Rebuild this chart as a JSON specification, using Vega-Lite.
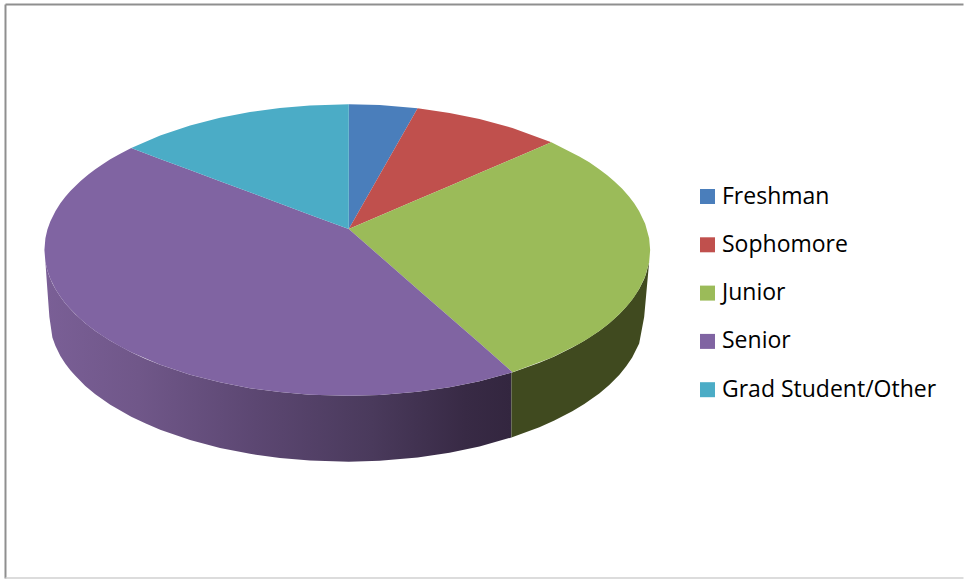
{"$schema":"https://vega.github.io/schema/vega-lite/v6.json","width":965,"height":580,"padding":0,"autosize":{"type":"fit","contains":"padding"},"background":"white","config":{"view":{"stroke":null}},
"datasets":{"frame":[{"x":5,"y":4,"x2":965,"y2":4},{"x":5,"y":4,"x2":5,"y2":579}],"bottom":[{"x":5,"y":578.5,"x2":965,"y2":578.5}],
"sideSenior":[{"x":45,"y":261.9,"y2":262},{"x":47,"y":270.5,"y2":290},{"x":49,"y":276.4,"y2":317},{"x":52,"y":283.6,"y2":337.5},{"x":55,"y":288.9,"y2":345.9},{"x":60,"y":296.8,"y2":356},{"x":65,"y":303.4,"y2":364},{"x":70,"y":309.1,"y2":370.5},{"x":75,"y":314.3,"y2":376},{"x":85,"y":323.3,"y2":386.1},{"x":95,"y":331,"y2":394.4},{"x":110,"y":340.9,"y2":404.9},{"x":131,"y":352.3,"y2":416.9},{"x":145,"y":358.8,"y2":423.6},{"x":160,"y":364.8,"y2":429.9},{"x":190,"y":374.8,"y2":440.3},{"x":220,"y":382.5,"y2":448.2},{"x":250,"y":388.3,"y2":454.1},{"x":280,"y":392.3,"y2":458.3},{"x":310,"y":394.9,"y2":460.9},{"x":349,"y":396,"y2":462},{"x":380,"y":395.2,"y2":461.1},{"x":418,"y":392,"y2":457.8},{"x":450,"y":387.4,"y2":453},{"x":480,"y":381.4,"y2":446.8},{"x":512,"y":372.8,"y2":437.7}],
"sideJunior":[{"x":512,"y":372.8,"y2":437.7},{"x":540,"y":362.9,"y2":427.4},{"x":555,"y":356.5,"y2":420.8},{"x":573,"y":347.5,"y2":411.5},{"x":585,"y":340.9,"y2":404.3},{"x":600,"y":331,"y2":393.6},{"x":610,"y":323.3,"y2":385.2},{"x":620,"y":314.3,"y2":375.1},{"x":627,"y":306.9,"y2":366.5},{"x":633,"y":299.5,"y2":357.6},{"x":640,"y":288.9,"y2":343.5},{"x":645,"y":278.9,"y2":317},{"x":647,"y":273.4,"y2":295},{"x":650,"y":261.9,"y2":262}],
"wedges":[
{"group":"Freshman","x":349,"y":104,"y2":229},{"group":"Freshman","x":380,"y":104.8,"y2":174.6},{"group":"Freshman","x":418,"y":108,"y2":108},
{"group":"Sophomore","x":349,"y":229,"y2":229},{"group":"Sophomore","x":418,"y":108,"y2":199.4},{"group":"Sophomore","x":450,"y":112.6,"y2":185.7},{"group":"Sophomore","x":480,"y":118.6,"y2":172.9},{"group":"Sophomore","x":513,"y":127.6,"y2":158.7},{"group":"Sophomore","x":552,"y":142.1,"y2":142.1},
{"group":"Junior","x":349,"y":229,"y2":229},{"group":"Junior","x":380,"y":215.7,"y2":256},{"group":"Junior","x":418,"y":199.4,"y2":289.2},{"group":"Junior","x":450,"y":185.7,"y2":317.1},{"group":"Junior","x":480,"y":172.9,"y2":343.2},{"group":"Junior","x":513,"y":158.7,"y2":372.4},{"group":"Junior","x":552,"y":142.1,"y2":357.9},{"group":"Junior","x":580,"y":156.2,"y2":343.8},{"group":"Junior","x":590,"y":162.1,"y2":337.9},{"group":"Junior","x":600,"y":169,"y2":331},{"group":"Junior","x":608,"y":175,"y2":325},{"group":"Junior","x":615,"y":181,"y2":319},{"group":"Junior","x":623,"y":188.7,"y2":311.3},{"group":"Junior","x":630,"y":196.6,"y2":303.4},{"group":"Junior","x":635,"y":203.1,"y2":296.9},{"group":"Junior","x":640,"y":211.1,"y2":288.9},{"group":"Junior","x":646,"y":223.6,"y2":276.4},{"group":"Junior","x":650,"y":238.1,"y2":261.9},{"group":"Junior","x":651,"y":250,"y2":250},
{"group":"Senior","x":44,"y":250,"y2":250},{"group":"Senior","x":45,"y":238.1,"y2":261.9},{"group":"Senior","x":47,"y":229.5,"y2":270.5},{"group":"Senior","x":50,"y":221.1,"y2":278.9},{"group":"Senior","x":55,"y":211.1,"y2":288.9},{"group":"Senior","x":60,"y":203.2,"y2":296.8},{"group":"Senior","x":65,"y":196.6,"y2":303.4},{"group":"Senior","x":70,"y":190.9,"y2":309.1},{"group":"Senior","x":80,"y":181,"y2":319},{"group":"Senior","x":88,"y":174.3,"y2":325.7},{"group":"Senior","x":95,"y":169,"y2":331},{"group":"Senior","x":102,"y":164.2,"y2":335.8},{"group":"Senior","x":110,"y":159.1,"y2":340.9},{"group":"Senior","x":120,"y":153.4,"y2":346.6},{"group":"Senior","x":131,"y":147.7,"y2":352.3},{"group":"Senior","x":160,"y":158.8,"y2":364.8},{"group":"Senior","x":190,"y":169.9,"y2":374.8},{"group":"Senior","x":220,"y":181,"y2":382.5},{"group":"Senior","x":250,"y":192.2,"y2":388.3},{"group":"Senior","x":280,"y":203.4,"y2":392.3},{"group":"Senior","x":310,"y":214.5,"y2":394.9},{"group":"Senior","x":349,"y":229,"y2":396},{"group":"Senior","x":380,"y":256,"y2":395.2},{"group":"Senior","x":418,"y":289.2,"y2":392},{"group":"Senior","x":450,"y":317.1,"y2":387.4},{"group":"Senior","x":480,"y":343.2,"y2":381.4},{"group":"Senior","x":513,"y":372.4,"y2":372.4},
{"group":"Grad Student/Other","x":131,"y":147.7,"y2":147.7},{"group":"Grad Student/Other","x":160,"y":135.2,"y2":158.8},{"group":"Grad Student/Other","x":190,"y":125.2,"y2":169.9},{"group":"Grad Student/Other","x":220,"y":117.5,"y2":181},{"group":"Grad Student/Other","x":250,"y":111.7,"y2":192.2},{"group":"Grad Student/Other","x":280,"y":107.7,"y2":203.4},{"group":"Grad Student/Other","x":310,"y":105.1,"y2":214.5},{"group":"Grad Student/Other","x":349,"y":104,"y2":229}
]},
"encoding":{
"x":{"field":"x","type":"quantitative","scale":{"domain":[-0.5,964.5],"nice":false,"zero":false},"axis":null},
"y":{"field":"y","type":"quantitative","scale":{"domain":[579.5,-0.5],"nice":false,"zero":false},"axis":null}},
"layer":[
{"data":{"name":"frame"},"mark":{"type":"rule","color":"#8f8f8f","strokeWidth":2},"encoding":{"x2":{"field":"x2"},"y2":{"field":"y2"}}},
{"data":{"name":"bottom"},"mark":{"type":"rule","color":"#d0d0d0","strokeWidth":1.5},"encoding":{"x2":{"field":"x2"},"y2":{"field":"y2"}}},
{"data":{"name":"sideSenior"},"mark":{"type":"area","interpolate":"linear","color":{"gradient":"linear","x1":0,"y1":0,"x2":1,"y2":0,"stops":[{"offset":0,"color":"#7a5f96"},{"offset":0.2,"color":"#705789"},{"offset":0.45,"color":"#5c4772"},{"offset":0.7,"color":"#4a3a5c"},{"offset":0.9,"color":"#382a45"},{"offset":1,"color":"#33263f"}]}},"encoding":{"y2":{"field":"y2"}}},
{"data":{"name":"sideJunior"},"mark":{"type":"area","interpolate":"linear","color":"#404a1f"},"encoding":{"y2":{"field":"y2"}}},
{"data":{"name":"wedges"},"mark":{"type":"area","interpolate":"linear"},"encoding":{"y2":{"field":"y2"},"color":{"field":"group","type":"nominal","scale":{"domain":["Freshman","Sophomore","Junior","Senior","Grad Student/Other"],"range":["#4a7ebb","#c0504d","#9bbb59","#8064a2","#4bacc6"]},"legend":{"title":null,"orient":"none","legendX":696,"legendY":185,"symbolType":"square","symbolSize":225,"symbolStrokeWidth":0,"labelFont":"Open Sans","labelFontSize":23,"labelColor":"#000000","labelOffset":3,"rowPadding":24.3,"labelLimit":300}}}}
]}
